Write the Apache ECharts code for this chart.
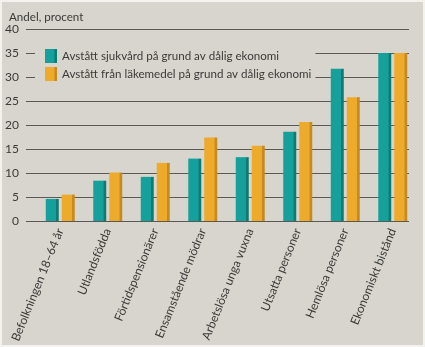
<!DOCTYPE html>
<html><head><meta charset="utf-8">
<script src="https://cdn.jsdelivr.net/npm/echarts@6/dist/echarts.min.js"></script>
<style>html,body{margin:0;padding:0;background:#f3f2ef}#c{width:425px;height:347px}</style>
</head><body><div id="c"></div>
<script>
const categories = ['Befolkningen 18–64 år','Utlandsfödda','Förtidspensionärer','Ensamstående mödrar','Arbetslösa unga vuxna','Utsatta personer','Hemlösa personer','Ekonomiskt bistånd'];
const seriesNames = ['Avstått sjukvård på grund av dålig ekonomi','Avstått från läkemedel på grund av dålig ekonomi'];
const sjukvard = [4.6, 8.4, 9.2, 13.0, 13.3, 18.6, 31.7, 35.0];
const lakemedel = [5.5, 10.1, 12.1, 17.4, 15.7, 20.6, 25.8, 35.0];
const yTicks = [0,5,10,15,20,25,30,35,40];

const BG = '#d8d5ce';
const FONT = 'Lato';
function grad(main, dark){
  return new echarts.graphic.LinearGradient(0,0,1,0,[
    {offset:0,color:main},{offset:0.78,color:main},{offset:0.8,color:dark},{offset:1,color:dark}]);
}
const chart = echarts.init(document.getElementById('c'), null, {renderer:'canvas'});
chart.setOption({
  animation:false,
  backgroundColor:'#f3f2ef',
  textStyle:{fontFamily:FONT,color:'#3a3a38'},
  graphic:[{type:'rect',z:-10,shape:{x:2,y:2,width:421,height:343},style:{fill:BG}}],
  title:{text:'Andel, procent',left:4,top:6,textStyle:{fontFamily:FONT,fontSize:11.6,fontWeight:'normal',color:'#3a3a38'}},
  legend:{
    orient:'vertical',left:35,top:45,itemWidth:12,itemHeight:14,itemGap:4,
    backgroundColor:BG,padding:[4,4,4,10],icon:'rect',
    textStyle:{fontFamily:FONT,fontSize:11.6,color:'#3a3a38'},
    data:seriesNames
  },
  grid:[
    {left:26,right:16,top:29,bottom:126},
    {left:36.5,right:8.5,top:29,bottom:126}
  ],
  xAxis:[
    {gridIndex:0,type:'value',show:false},
    {gridIndex:1,type:'category',data:categories,
     axisLine:{show:false},axisTick:{show:false},
     axisLabel:{interval:0,rotate:68,margin:8,fontSize:12,color:'#3a3a38',fontFamily:FONT}}
  ],
  yAxis:[
    {gridIndex:0,type:'value',min:0,max:40,interval:5,
     axisLine:{show:false},axisTick:{show:false},
     axisLabel:{margin:7,fontSize:12,color:'#3a3a38',fontFamily:FONT,
       formatter:v=>yTicks.includes(v)?String(v):''},
     splitLine:{show:true,lineStyle:{color:'#5a5955',width:1}}},
    {gridIndex:1,type:'value',min:0,max:40,interval:5,show:false,splitLine:{show:false}}
  ],
  series:[
    {name:seriesNames[0],type:'bar',xAxisIndex:1,yAxisIndex:1,data:sjukvard,barWidth:13,barGap:'23%',z:5,
     itemStyle:{color:grad('#16a09b','#0e7a76')}},
    {name:seriesNames[1],type:'bar',xAxisIndex:1,yAxisIndex:1,data:lakemedel,barWidth:13,barGap:'23%',z:5,
     itemStyle:{color:grad('#eeaa2b','#c68a1f')}}
  ]
});
</script></body></html>
